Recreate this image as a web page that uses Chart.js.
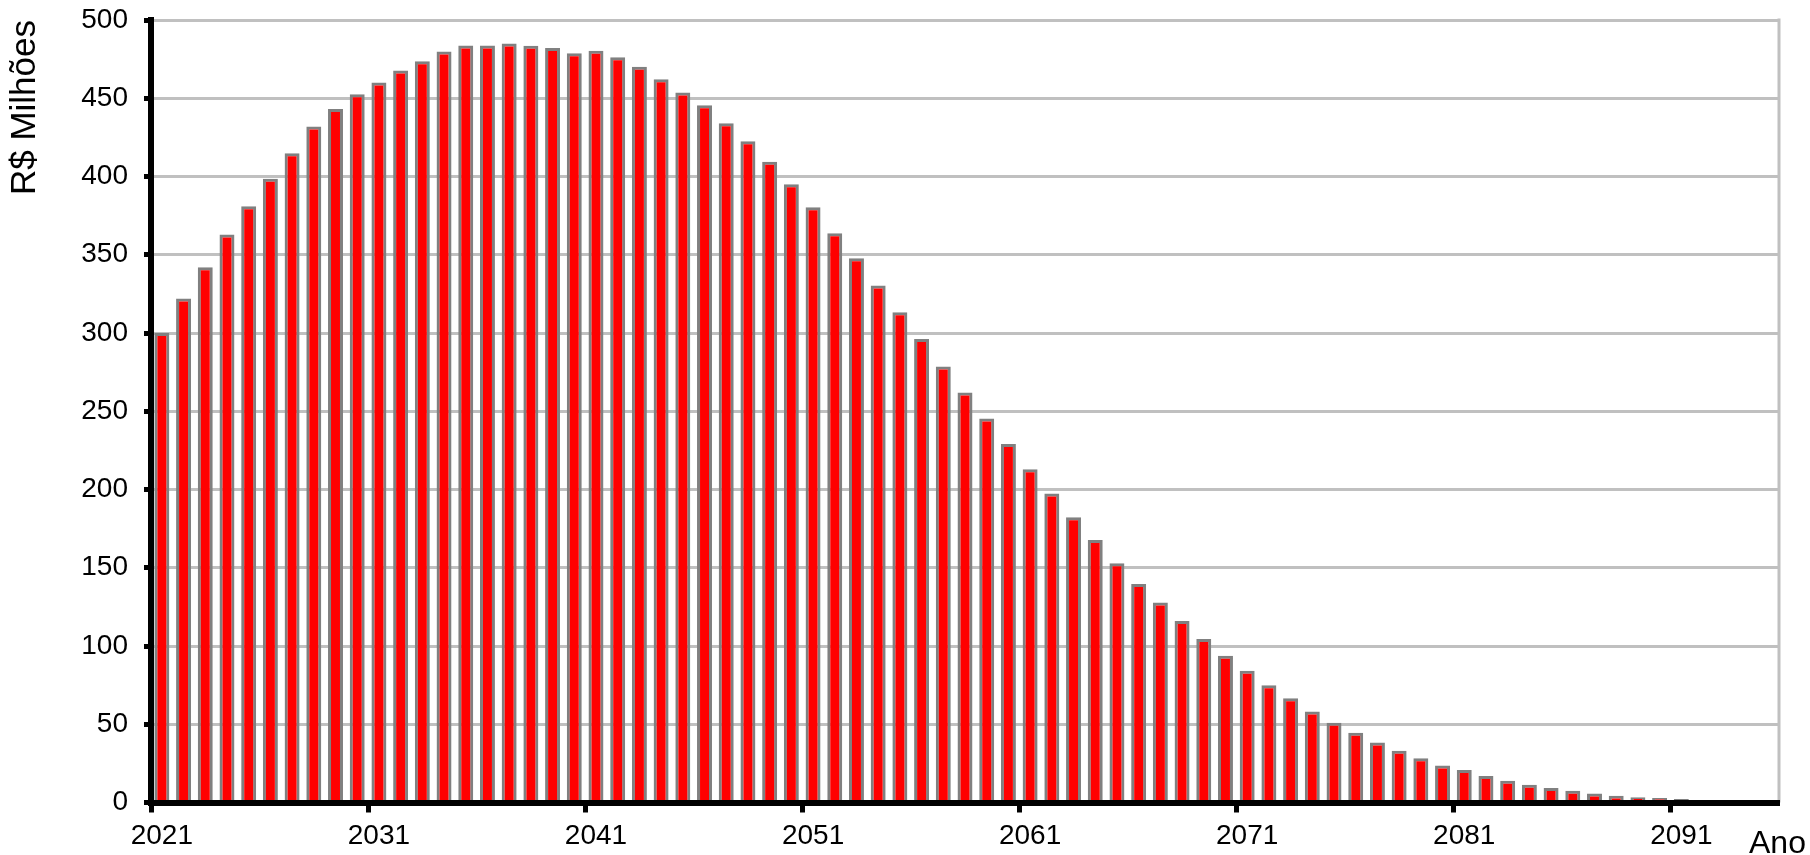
<!DOCTYPE html>
<html>
<head>
<meta charset="utf-8">
<title>R$ Milhões por ano</title>
<script src="https://cdn.jsdelivr.net/npm/chart.js@4.4.1/dist/chart.umd.min.js"></script>
<style>
  html, body { margin: 0; padding: 0; background: #fff; }
  #wrap { width: 1810px; height: 855px; position: relative; }
</style>
</head>
<body>
<div id="wrap"><canvas id="chart"></canvas></div>
<script>
// anos do eixo x
const years = [
  "2021","2022","2023","2024","2025","2026","2027","2028","2029","2030",
  "2031","2032","2033","2034","2035","2036","2037","2038","2039","2040",
  "2041","2042","2043","2044","2045","2046","2047","2048","2049","2050",
  "2051","2052","2053","2054","2055","2056","2057","2058","2059","2060",
  "2061","2062","2063","2064","2065","2066","2067","2068","2069","2070",
  "2071","2072","2073","2074","2075","2076","2077","2078","2079","2080",
  "2081","2082","2083","2084","2085","2086","2087","2088","2089","2090",
  "2091","2092","2093","2094","2095"
];

// valores em R$ milhões
const values = [
  300, 322, 342, 363, 381, 398.5, 414.8, 431.9, 443.2, 452.6,
  460, 467.7, 473.7, 479.9, 483.7, 483.7, 485, 483.5, 482.1, 478.7,
  480.4, 476.2, 470.2, 462.2, 453.6, 445.6, 434, 422.5, 409.5, 395,
  380.3, 363.8, 347.7, 330.4, 313.2, 296.1, 278.6, 262, 245.4, 229,
  213, 197.4, 182.3, 167.7, 152.9, 139.6, 127.8, 116, 104.5, 93.8,
  84.2, 74.9, 66.6, 58.2, 51, 44.6, 38.4, 33, 28.2, 23.7,
  20.8, 16.9, 13.9, 11.3, 9.2, 7.5, 5.8, 4.3, 3.4, 2.9,
  2.2, 0, 0, 0, 0
];

// rótulos mostrados no eixo x
const labelYears = ["2021", "2031", "2041", "2051", "2061", "2071", "2081", "2091"];

// eixo y
const yMin = 0;
const yMax = 500;
const yStep = 50;

const FONT = '"Liberation Sans", Arial, sans-serif';
const isLabelled = (i) => i !== undefined && labelYears.includes(years[i]);

const frame = {
  id: "frame",
  beforeDatasetsDraw(chart) {
    const { ctx, chartArea } = chart;
    ctx.save();
    ctx.strokeStyle = "#c0c0c0";
    ctx.lineWidth = 3;
    ctx.beginPath();
    ctx.moveTo(chartArea.right, chartArea.top - 1.5);
    ctx.lineTo(chartArea.right, chartArea.bottom);
    ctx.stroke();
    ctx.restore();
  },
  afterDraw(chart) {
    const { ctx } = chart;
    ctx.save();
    ctx.fillStyle = "#000";
    ctx.font = "32px " + FONT;
    ctx.textBaseline = "alphabetic";
    ctx.textAlign = "left";
    ctx.fillText("Ano", 1749, 853);
    ctx.restore();
  }
};

new Chart(document.getElementById("chart"), {
  type: "bar",
  data: {
    labels: years,
    datasets: [{
      label: "R$ Milhões",
      data: values,
      backgroundColor: "#ff0000",
      borderColor: "#808080",
      borderWidth: 3,
      barPercentage: 0.69,
      categoryPercentage: 1.0
    }]
  },
  options: {
    responsive: true,
    maintainAspectRatio: false,
    animation: false,
    layout: { padding: { top: 20, right: 31, left: 0, bottom: 0 } },
    plugins: { legend: { display: false }, tooltip: { enabled: false } },
    scales: {
      x: {
        offset: true,
        grid: {
          offset: true,
          drawOnChartArea: false,
          tickLength: 10,
          tickWidth: 5,
          tickColor: (c) => isLabelled(c.index) ? "#000" : "rgba(0,0,0,0)"
        },
        border: { color: "#000", width: 6, z: 1 },
        ticks: {
          autoSkip: false,
          maxRotation: 0,
          padding: 7,
          color: "#000",
          font: { family: FONT, size: 28 },
          callback: (v, i) => isLabelled(i) ? years[i] : ""
        },
        afterFit: (s) => { s.height = 52.5; s.paddingLeft = 0; s.paddingRight = 0; }
      },
      y: {
        min: yMin,
        max: yMax,
        ticks: {
          stepSize: yStep,
          padding: 16,
          color: "#000",
          font: { family: FONT, size: 28 }
        },
        grid: { color: "#c0c0c0", lineWidth: 3, tickColor: "#000", tickLength: 7, tickWidth: 5 },
        border: { color: "#000", width: 6, z: 1 },
        title: {
          display: true,
          text: "R$ Milhões",
          align: "end",
          color: "#000",
          font: { family: FONT, size: 35 },
          padding: { top: 4, bottom: 0 }
        },
        afterFit: (s) => { s.width = 151; s.paddingTop = 10; s.paddingBottom = 0; }
      }
    }
  },
  plugins: [frame]
});
</script>
</body>
</html>
